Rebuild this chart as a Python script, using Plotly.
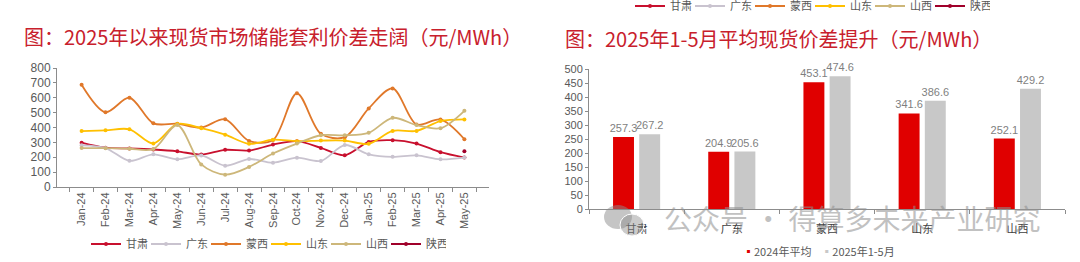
import plotly.graph_objects as go

# ---------------- data ----------------
months = ["Jan-24", "Feb-24", "Mar-24", "Apr-24", "May-24", "Jun-24", "Jul-24", "Aug-24",
          "Sep-24", "Oct-24", "Nov-24", "Dec-24", "Jan-25", "Feb-25", "Mar-25", "Apr-25", "May-25"]
gansu = [298, 264, 259, 252, 240, 218, 250, 245, 285, 308, 263, 213, 303, 315, 292, 234, 198]
guangdong = [280, 262, 176, 220, 186, 212, 143, 188, 163, 197, 175, 282, 220, 203, 213, 186, 198]
mengxi = [688, 503, 600, 428, 425, 400, 455, 310, 316, 630, 358, 335, 528, 663, 420, 454, 321]
shandong = [376, 381, 388, 293, 424, 395, 352, 290, 318, 308, 312, 312, 290, 377, 377, 443, 454]
shanxi = [262, 261, 257, 255, 416, 152, 83, 135, 225, 292, 348, 348, 364, 465, 416, 395, 512]
shaanxi = [None] * 16 + [240]

line_names = ["甘肃", "广东", "蒙西", "山东", "山西", "陕西"]
line_series = [gansu, guangdong, mengxi, shandong, shanxi, shaanxi]
line_colors = ["#C8102E", "#C9C3CF", "#E0782A", "#FFC000", "#CDB77A", "#A0002A"]

provinces = ["甘肃", "广东", "蒙西", "山东", "山西"]
avg_2024 = [257.3, 204.9, 453.1, 341.6, 252.1]
avg_2025 = [267.2, 205.6, 474.6, 386.6, 429.2]
bar_names = ["2024年平均", "2025年1-5月"]
bar_colors = ["#E00000", "#C8C8C8"]

title_left = "图：2025年以来现货市场储能套利价差走阔（元/MWh）"
title_right = "图：2025年1-5月平均现货价差提升（元/MWh）"
watermark = "公众号 · 得算多未来产业研究"

FONT = "Arial, Liberation Sans, Noto Sans CJK SC"
CJK = "Noto Sans CJK SC, Microsoft YaHei, sans-serif"
AX = "#595959"
AXLINE = "#8C8C8C"

fig = go.Figure()

# ---------------- left: line chart ----------------
for name, ys, col in zip(line_names, line_series, line_colors):
    fig.add_trace(go.Scatter(
        x=months, y=ys, name=name, mode="lines+markers",
        line=dict(color=col, width=1.8, shape="spline", smoothing=0.9),
        marker=dict(color=col, size=4),
        xaxis="x", yaxis="y", legend="legend", connectgaps=False,
    ))
# top (cropped) legend row
for name, col in zip(line_names, line_colors):
    fig.add_trace(go.Scatter(
        x=[None], y=[None], name=name, mode="lines+markers",
        line=dict(color=col, width=1.8), marker=dict(color=col, size=4),
        xaxis="x", yaxis="y", legend="legend2", hoverinfo="skip",
    ))

# ---------------- right: bar chart ----------------
for name, vals, col in zip(bar_names, [avg_2024, avg_2025], bar_colors):
    fig.add_trace(go.Bar(
        x=provinces, y=vals, name=name, marker=dict(color=col, line=dict(width=0)),
        text=[f"{v:.1f}" for v in vals], textposition="outside", constraintext="none",
        textfont=dict(color="#7F7F7F", size=11, family=FONT),
        cliponaxis=False, xaxis="x2", yaxis="y2", showlegend=False,
    ))

# compact bar legend as text (small square glyph + name)
bar_legend = "    ".join(
    f"<span style='color:{c}'>▪</span>{n}" for n, c in zip(bar_names, bar_colors)
)

fig.update_layout(
    width=1080, height=262,
    margin=dict(l=0, r=0, t=0, b=0, autoexpand=False),
    paper_bgcolor="white", plot_bgcolor="white",
    font=dict(family=FONT, color=AX, size=11),
    barmode="group", bargap=0.45, bargroupgap=0.2,
    xaxis=dict(domain=[57 / 1080, 489 / 1080], anchor="y", type="category",
               tickangle=-90, showline=True, linecolor=AXLINE, linewidth=1,
               ticks="outside", tickson="boundaries", ticklen=4, tickcolor=AXLINE,
               showgrid=False, tickfont=dict(size=11, color=AX), zeroline=False),
    yaxis=dict(domain=[(262 - 187) / 262, (262 - 68) / 262], anchor="x",
               range=[0, 800], dtick=100, showline=True, linecolor=AXLINE,
               ticks="outside", ticklen=3, tickcolor=AXLINE, showgrid=False,
               zeroline=False, tickfont=dict(size=12, color=AX)),
    xaxis2=dict(domain=[589 / 1080, 1065 / 1080], anchor="y2", type="category",
                showline=True, linecolor=AXLINE, linewidth=1,
                ticks="outside", tickson="boundaries", ticklen=4, tickcolor=AXLINE,
                showgrid=False, tickfont=dict(size=11, color="#404040", family=CJK),
                ticklabelstandoff=9),
    yaxis2=dict(domain=[(262 - 209.3) / 262, (262 - 69) / 262], anchor="x2",
                range=[0, 500], dtick=50, showline=True, linecolor=AXLINE,
                ticks="outside", ticklen=3, tickcolor=AXLINE, showgrid=False,
                zeroline=False, tickfont=dict(size=11, color=AX)),
    legend=dict(orientation="h", x=266 / 1080, xanchor="center",
                y=(262 - 244) / 262, yanchor="middle",
                font=dict(family=CJK, size=11, color=AX),
                entrywidth=15, entrywidthmode="pixels", itemwidth=30,
                bgcolor="rgba(0,0,0,0)"),
    legend2=dict(orientation="h", x=810 / 1080, xanchor="center",
                 y=(262 - 6) / 262, yanchor="middle",
                 font=dict(family=CJK, size=11, color=AX),
                 entrywidth=15, entrywidthmode="pixels", itemwidth=30,
                 bgcolor="rgba(0,0,0,0)"),
    annotations=[
        dict(text=title_left, xref="paper", yref="paper", x=22 / 1080, y=(262 - 36) / 262,
             xanchor="left", yanchor="middle", showarrow=False,
             font=dict(family=CJK, size=20, color="#C8202C")),
        dict(text=title_right, xref="paper", yref="paper", x=563 / 1080, y=(262 - 38) / 262,
             xanchor="left", yanchor="middle", showarrow=False,
             font=dict(family=CJK, size=20, color="#C8202C")),
        dict(text=bar_legend, xref="paper", yref="paper", x=819 / 1080, y=(262 - 251) / 262,
             xanchor="center", yanchor="middle", showarrow=False,
             font=dict(family=CJK, size=11, color=AX)),
        dict(text=watermark, xref="paper", yref="paper", x=852 / 1080, y=(262 - 218) / 262,
             xanchor="center", yanchor="middle", showarrow=False, opacity=0.55,
             font=dict(family=CJK, size=28, color="#909090")),
    ],
    shapes=[
        dict(type="circle", xref="paper", yref="paper", layer="above",
             x0=604 / 1080, x1=632 / 1080, y0=(262 - 229) / 262, y1=(262 - 205) / 262,
             fillcolor="rgba(140,140,140,0.5)", line=dict(width=0)),
        dict(type="circle", xref="paper", yref="paper", layer="above",
             x0=620 / 1080, x1=644 / 1080, y0=(262 - 236) / 262, y1=(262 - 214) / 262,
             fillcolor="rgba(140,140,140,0.45)", line=dict(color="white", width=1)),
    ],
)

fig.write_html("out.html")
